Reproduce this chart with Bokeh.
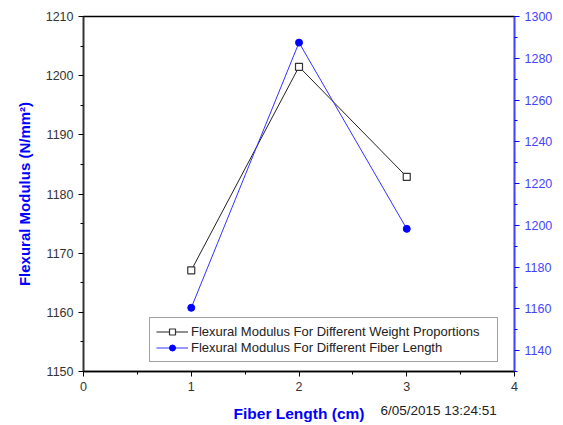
from bokeh.plotting import figure
from bokeh.models import Range1d, LinearAxis, Legend, LegendItem, Label, FixedTicker
from bokeh.embed import file_html
from bokeh.resources import INLINE

fiber_length = [1, 2, 3]
weight_prop_modulus = [1167.1, 1201.5, 1182.9]
fiber_len_modulus = [1160.5, 1287.5, 1198.3]
x_ticks = [0, 1, 2, 3, 4]
x_title = "Fiber Length (cm)"
timestamp = "6/05/2015 13:24:51"

FONT = "Liberation Sans"
BLUE = "#0000ff"

p = figure(width=555, height=425, output_backend="svg", toolbar_location=None,
           x_range=Range1d(0, 4), y_range=Range1d(1150, 1210),
           min_border_left=83, min_border_right=41, min_border_top=16, min_border_bottom=0)
p.extra_y_ranges = {"right": Range1d(1130, 1300)}
p.grid.visible = False
p.outline_line_color = "black"
p.outline_line_width = 1.5
p.background_fill_color = "white"
p.border_fill_color = "white"

# x axis
xa = p.xaxis[0]
xa.ticker = FixedTicker(ticks=x_ticks, minor_ticks=[0.5, 1.5, 2.5, 3.5])
xa.major_label_text_font = FONT
xa.major_label_text_font_size = "12.5px"
xa.major_label_text_color = "#333333"
xa.major_label_standoff = 5
xa.axis_line_color = "black"
xa.axis_line_width = 1.5
xa.major_tick_line_color = "black"
xa.minor_tick_line_color = "black"
xa.major_tick_in = 0
xa.major_tick_out = 5
xa.minor_tick_in = 0
xa.minor_tick_out = 3

# left y axis
ya = p.yaxis[0]
ya.ticker = FixedTicker(ticks=list(range(1150, 1211, 10)),
                        minor_ticks=list(range(1155, 1210, 10)))
ya.axis_label = "Flexural Modulus (N/mm²)"
ya.axis_label_text_color = BLUE
ya.axis_label_text_font = FONT
ya.axis_label_text_font_style = "bold"
ya.axis_label_text_font_size = "15px"
ya.axis_label_standoff = 10
ya.major_label_text_font = FONT
ya.major_label_text_font_size = "12.5px"
ya.major_label_text_color = "#333333"
ya.major_label_standoff = 5
ya.axis_line_color = "#333333"
ya.axis_line_width = 1.5
ya.major_tick_line_color = "black"
ya.minor_tick_line_color = "black"
ya.major_tick_in = 0
ya.major_tick_out = 5
ya.minor_tick_in = 0
ya.minor_tick_out = 3

# right y axis
ra = LinearAxis(y_range_name="right",
                ticker=FixedTicker(ticks=list(range(1140, 1301, 20)),
                                   minor_ticks=list(range(1130, 1300, 20))))
ra.axis_line_color = "#4444ff"
ra.axis_line_width = 1.5
ra.major_tick_line_color = BLUE
ra.minor_tick_line_color = BLUE
ra.major_tick_in = 0
ra.major_tick_out = 5
ra.minor_tick_in = 0
ra.minor_tick_out = 3
ra.major_label_text_font = FONT
ra.major_label_text_font_size = "12.5px"
ra.major_label_text_color = "#4444ff"
ra.major_label_standoff = 5
p.add_layout(ra, "right")

# series
l1 = p.line(fiber_length, weight_prop_modulus, line_color="#222222", line_width=1)
s1 = p.scatter(fiber_length, weight_prop_modulus, marker="square", size=7,
               fill_color="white", line_color="#333333", line_width=1.2)
l2 = p.line(fiber_length, fiber_len_modulus, line_color="#3333ff", line_width=1,
            y_range_name="right")
s2 = p.scatter(fiber_length, fiber_len_modulus, marker="circle", size=7,
               fill_color=BLUE, line_color=BLUE, y_range_name="right")

legend = Legend(items=[
    LegendItem(label="Flexural Modulus For Different Weight Proportions", renderers=[l1, s1]),
    LegendItem(label="Flexural Modulus For Different Fiber Length", renderers=[l2, s2]),
], location=(66, 9))
legend.label_text_font = FONT
legend.label_text_font_size = "13px"
legend.label_text_color = "#222222"
legend.label_height = 15
legend.label_width = 300
legend.glyph_height = 15
legend.glyph_width = 32
legend.label_standoff = 3
legend.spacing = 1
legend.padding = 6
legend.margin = 0
legend.border_line_color = "#444444"
legend.border_line_width = 1
legend.background_fill_alpha = 1
p.add_layout(legend, "center")

title_lbl = Label(x=215.5, y=-3, x_units="screen", y_units="screen", text=x_title,
                  text_font=FONT, text_font_size="15.5px", text_font_style="bold",
                  text_color=BLUE, text_align="center", text_baseline="middle")
p.add_layout(title_lbl, "below")

ts = Label(x=297, y=15, x_units="screen", y_units="screen", text=timestamp,
           text_font=FONT, text_font_size="13.5px", text_color="#222222",
           text_baseline="middle")
p.add_layout(ts, "below")

open("out.html", "w").write(file_html(p, INLINE))
